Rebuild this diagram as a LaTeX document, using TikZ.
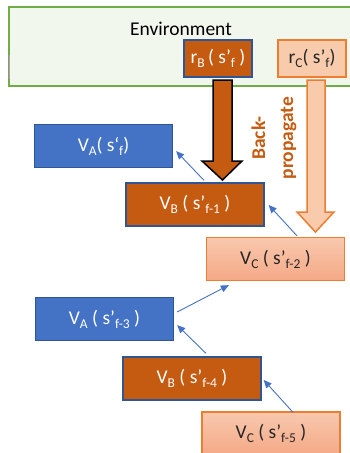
\documentclass[tikz,border=0pt]{standalone}
\usepackage{fontspec}
\setmainfont{Carlito}
\usetikzlibrary{arrows.meta,calc}
\definecolor{envfill}{HTML}{F2F7EE}
\definecolor{envline}{HTML}{70AD47}
\definecolor{blueA}{HTML}{4472C4}
\definecolor{blueline}{HTML}{2F5597}
\definecolor{brownB}{HTML}{C55A11}
\definecolor{peach}{HTML}{F8CBAD}
\definecolor{peachtop}{HTML}{F8C8AE}
\definecolor{peachbot}{HTML}{F4A986}
\definecolor{orangeline}{HTML}{ED7D31}
\definecolor{txtdark}{HTML}{262626}
\newcommand{\sbs}[1]{\raisebox{-0.2em}{\fontsize{13.5}{13.5}\selectfont #1}}
\tikzset{
  lbl/.style={font=\fontsize{19.5}{21}\selectfont, inner sep=0pt},
  vbox/.style={lbl, line width=1.3pt, minimum width=138pt, minimum height=43pt},
  abox/.style={vbox, fill=blueA, draw=blueline, text=white},
  bbox/.style={vbox, fill=brownB, draw=blueline, text=white},
  cbox/.style={vbox, top color=peachtop, bottom color=peachbot, draw=orangeline, text=txtdark},
  rbox/.style={lbl, line width=1.5pt, minimum width=68pt, minimum height=37pt},
  link/.style={draw=blueA, line width=0.9pt, -{Triangle[length=8pt,width=7pt]}}
}
\begin{document}
\begin{tikzpicture}[x=1pt,y=-1pt]
\useasboundingbox (0,0) rectangle (350,453);
\clip (0,0) rectangle (350,453);
% environment panel, running off the right edge
\draw[fill=envfill, draw=envline, line width=2pt] (9,7) rectangle (362,86);
\draw[draw=violet!45, line width=1.2pt] (9.5,55) -- (9.5,79);
\node[lbl, text=black] (env) at (181,29) {Environment};
% rewards
\node[rbox, fill=brownB, draw=blueline, text=white] (rB) at (218,58.5) {r\sbs{B}\,( s’\sbs{f} )};
\node[rbox, fill=peach, draw=orangeline, text=txtdark] (rC) at (312,58.5) {r\sbs{C}( s’\sbs{f})};
% back-propagation arrows
\draw[fill=brownB, draw=black, line width=1.5pt, line join=miter]
  (213,80) -- (232,80) -- (232,161) -- (242,161) -- (222.5,180) -- (202,161) -- (213,161) -- cycle;
\draw[fill=peach, draw=orangeline, line width=1.5pt, line join=miter]
  (307,80) -- (325,80) -- (325,212) -- (334,212) -- (315.5,232) -- (297,212) -- (307,212) -- cycle;
\node[font=\fontsize{19.5}{28}\selectfont\bfseries, text=brownB, rotate=90, align=center, inner sep=0pt]
  (bp) at (274,138) {Back-\\propagate};
% value estimates
\node[abox] (VA1) at (103.5,146) {V\sbs{A}( s‘\sbs{f})};
\node[bbox] (VB1) at (195,204.5) {V\sbs{B} ( s’\sbs{f-1} )};
\node[cbox] (VC1) at (275.5,259) {V\sbs{C} ( s’\sbs{f-2} )};
\node[abox] (VA2) at (104.5,319) {V\sbs{A} ( s’\sbs{f-3} )};
\node[bbox] (VB2) at (192,378.5) {V\sbs{B} ( s’\sbs{f-4} )};
\node[cbox] (VC2) at (271,433.5) {V\sbs{C} ( s’\sbs{f-5} )};
% dependencies between estimates
\draw[link] ($(VB1.north)+(9,-2)$) -- ($(VA1.south east)+(3,-17)$);
\draw[link] ($(VC1.north)+(21.5,-1)$) -- ($(VB1.east)+(4,0.5)$);
\draw[link] ($(VA2.east)+(3,-7)$) -- ($(VC1.south west)+(23,4)$);
\draw[link] ($(VB2.north)+(14,-3)$) -- ($(VA2.south east)+(3,-16)$);
\draw[link] ($(VC2.north)+(22,1)$) -- ($(VB2.east)+(2,1.5)$);
\end{tikzpicture}
\end{document}
